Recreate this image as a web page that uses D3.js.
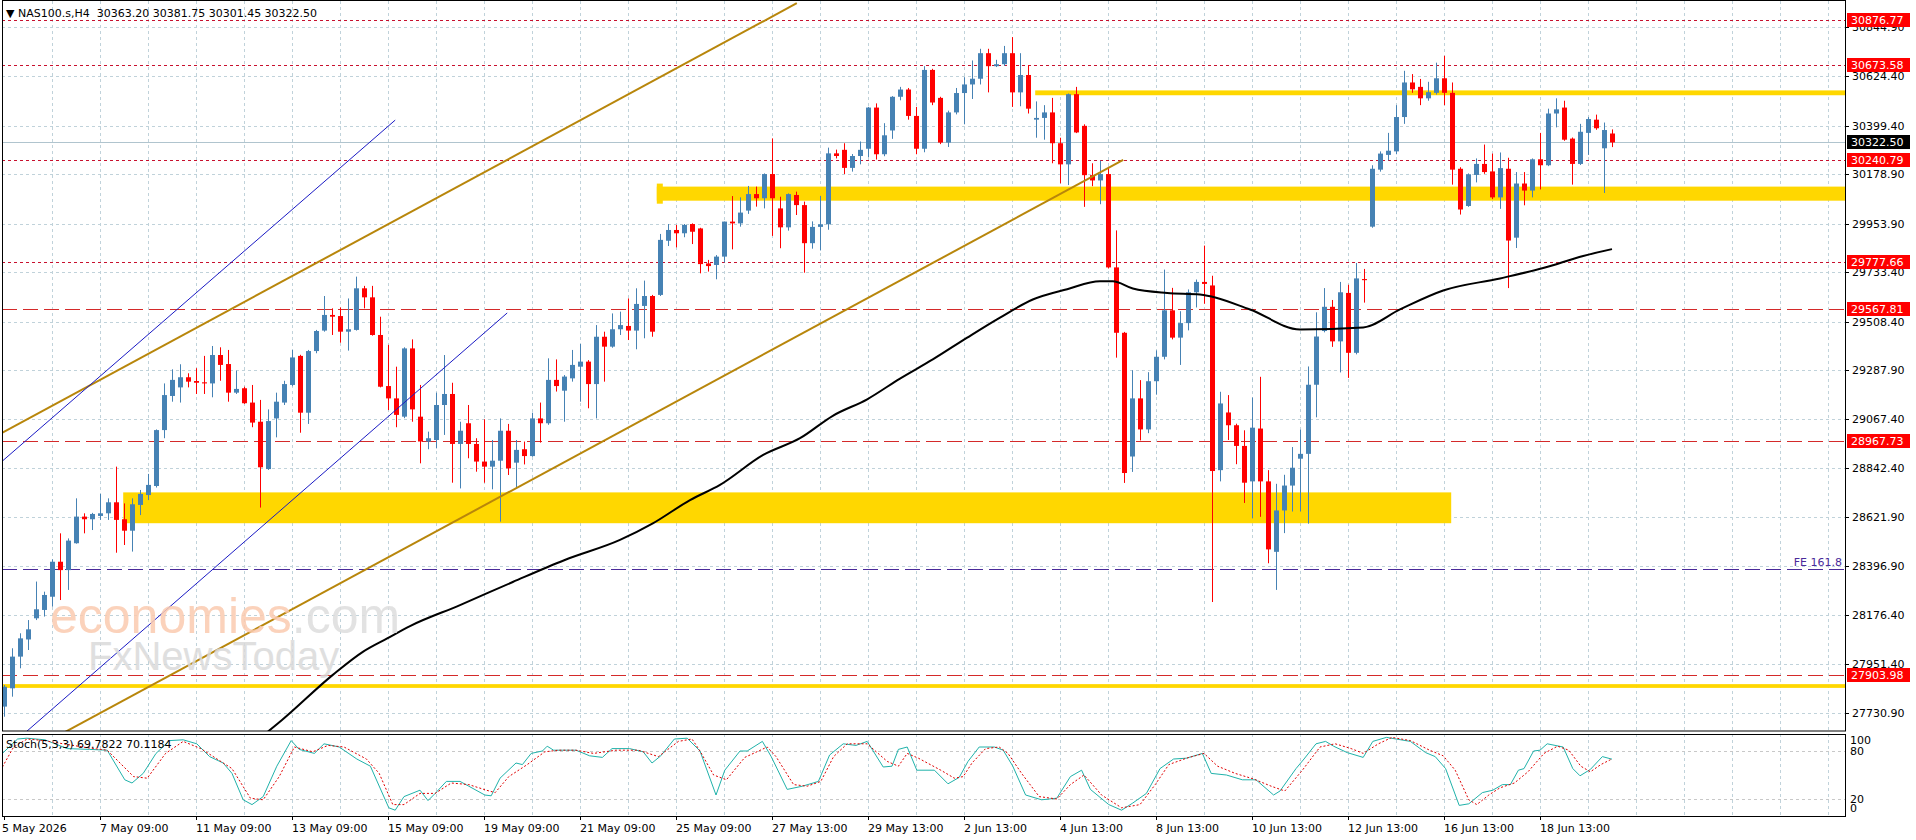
<!DOCTYPE html>
<html>
<head>
<meta charset="utf-8">
<script src="https://cdn.jsdelivr.net/npm/d3@7"></script>
<style>
  body { margin: 0; background: #fff; }
  svg { display: block; font-family: "DejaVu Sans", sans-serif; font-size: 11px; }
</style>
</head>
<body>
<svg id="chart" width="1916" height="840"></svg>
<script>
// H4 candles, [open, high, low, close]
const candles = [
  [27760,27858,27714,27850],[27843,28025,27805,27987],[27987,28093,27934,28070],[28065,28153,28017,28111],
  [28161,28328,28153,28202],[28199,28282,28169,28267],[28259,28429,28214,28418],[28418,28547,28244,28380],
  [28380,28524,28290,28514],[28502,28706,28500,28623],[28623,28638,28547,28611],[28611,28640,28562,28635],
  [28626,28726,28608,28638],[28638,28706,28608,28688],[28688,28850,28459,28608],[28611,28683,28494,28559],
  [28559,28706,28464,28679],[28676,28744,28630,28726],[28721,28817,28698,28767],[28762,29019,28755,29016],
  [29016,29228,28979,29175],[29171,29292,29145,29244],[29210,29315,29141,29256],[29256,29274,29210,29236],
  [29239,29297,29180,29231],[29233,29353,29180,29228],[29228,29398,29165,29357],[29357,29392,29240,29312],
  [29316,29380,29145,29186],[29186,29286,29180,29203],[29206,29213,29135,29138],[29141,29221,29029,29050],
  [29054,29153,28664,28847],[28839,29110,28835,29057],[29069,29186,28983,29145],[29141,29240,29130,29225],
  [29221,29380,29215,29346],[29353,29358,29004,29095],[29095,29380,29044,29375],[29375,29471,29365,29466],
  [29468,29625,29463,29539],[29539,29569,29448,29531],[29534,29573,29413,29463],[29463,29614,29377,29474],
  [29471,29713,29468,29660],[29660,29671,29569,29619],[29619,29671,29445,29448],[29448,29531,29210,29213],
  [29216,29403,29107,29160],[29160,29304,29029,29085],[29077,29392,29070,29387],[29387,29428,29054,29110],
  [29077,29221,28865,28964],[28964,29009,28929,28979],[28971,29186,28933,29130],[29130,29357,28994,29180],
  [29180,29231,28777,28953],[28953,29054,28751,29013],[29047,29130,28888,28953],[28953,28979,28827,28873],
  [28873,29065,28777,28850],[28850,28971,28747,28877],[28877,29069,28600,29013],[29013,29044,28812,28842],
  [28868,28971,28756,28926],[28929,28964,28860,28898],[28898,29095,28895,29069],[29069,29141,28959,29047],
  [29047,29342,29040,29244],[29244,29337,29191,29216],[29195,29266,29054,29259],[29251,29380,29236,29312],
  [29304,29407,29145,29327],[29327,29334,29115,29225],[29225,29493,29069,29440],[29440,29463,29236,29395],
  [29395,29546,29390,29474],[29474,29554,29448,29493],[29489,29614,29425,29468],[29468,29660,29383,29589],
  [29580,29695,29433,29625],[29625,29630,29440,29463],[29630,29907,29625,29880],[29876,29952,29852,29925],
  [29925,29948,29846,29910],[29910,29952,29892,29948],[29952,29955,29861,29917],[29932,29935,29728,29770],
  [29773,29789,29736,29761],[29766,29811,29701,29804],[29804,29963,29777,29963],[29963,30079,29837,29955],
  [29955,30073,29940,30004],[30013,30125,29998,30088],[30088,30122,30031,30069],[30069,30182,30023,30179],
  [30179,30341,29898,30069],[30023,30076,29842,29937],[29937,30091,29922,30088],[30084,30099,29993,30038],
  [30038,30054,29731,29865],[29865,29964,29840,29939],[29939,30080,29832,29951],[29951,30299,29926,30273],
  [30273,30290,30250,30261],[30289,30319,30179,30207],[30207,30270,30190,30261],[30261,30327,30223,30289],
  [30294,30484,30256,30481],[30481,30500,30245,30269],[30269,30410,30260,30355],[30377,30533,30339,30530],
  [30530,30575,30514,30563],[30563,30570,30426,30443],[30443,30484,30269,30294],[30294,30669,30278,30652],
  [30652,30657,30492,30504],[30525,30530,30315,30322],[30322,30467,30302,30459],[30459,30570,30450,30547],
  [30547,30619,30405,30586],[30586,30695,30520,30612],[30612,30748,30586,30728],[30728,30748,30550,30669],
  [30669,30698,30665,30678],[30678,30761,30670,30728],[30728,30801,30484,30550],[30550,30728,30487,30629],
  [30629,30674,30454,30476],[30426,30509,30344,30434],[30434,30492,30335,30459],[30459,30525,30228,30319],
  [30319,30344,30137,30223],[30223,30545,30129,30542],[30542,30575,30365,30368],[30398,30405,30030,30174],
  [30174,30228,30124,30150],[30150,30240,30042,30179],[30179,30212,29750,29755],[29755,29923,29345,29458],
  [29458,29462,28776,28821],[28896,29288,28826,29160],[29160,29243,28969,29019],[29019,29279,29002,29238],
  [29238,29378,29177,29349],[29349,29745,29337,29560],[29560,29662,29428,29436],[29436,29556,29312,29502],
  [29502,29655,29469,29642],[29642,29700,29573,29689],[29689,29854,29590,29680],[29673,29717,28235,28830],
  [28834,29190,28783,29137],[29096,29175,28971,29038],[29038,29045,28861,28944],[28944,29015,28685,28777],
  [28783,29164,28615,29027],[29023,29258,28622,28783],[28783,28834,28411,28474],[28463,28772,28290,28651],
  [28651,28813,28548,28764],[28764,28939,28646,28845],[28886,29018,28646,28908],[28908,29305,28591,29222],
  [29222,29551,29074,29441],[29466,29661,29460,29576],[29576,29607,29394,29419],[29419,29689,29278,29642],
  [29639,29676,29253,29367],[29367,29775,29360,29705],[29702,29748,29595,29697],[29940,30219,29935,30203],
  [30199,30282,30190,30272],[30266,30366,30241,30285],[30282,30492,30269,30438],[30438,30648,30407,30595],
  [30595,30633,30548,30564],[30575,30611,30492,30523],[30523,30598,30512,30551],[30548,30685,30540,30614],
  [30614,30716,30492,30548],[30548,30595,30131,30199],[30203,30210,29995,30018],[30034,30182,30030,30178],
  [30175,30250,30141,30225],[30225,30313,30180,30188],[30191,30272,30065,30073],[30073,30277,30021,30206],
  [30203,30253,29661,29877],[29890,30188,29843,30136],[30136,30188,30037,30104],[30104,30250,30073,30246],
  [30246,30366,30109,30219],[30219,30476,30215,30454],[30454,30523,30391,30473],[30481,30512,30330,30335],
  [30340,30345,30131,30225],[30225,30407,30220,30371],[30366,30438,30266,30429],[30426,30449,30380,30387],
  [30296,30413,30093,30379],[30363.2,30381.75,30301.45,30322.5]
];

// moving average, [bar, price]
const maPoints = [
  [30,27560],[34.75,27699],[41.1,27904],[44.9,28010],[47.9,28070],[50.75,28126],[57,28221],[63.6,28326],
  [70.1,28426],[77,28517],[81.1,28592],[85.75,28698],[89.5,28767],[94.9,28903],[99.5,28979],[103.6,29081],
  [107.9,29156],[112,29250],[116.1,29337],[120.4,29436],[124.5,29527],[128.6,29609],[132.9,29656],
  [137,29692],[138.6,29692],[141.1,29659],[145.4,29639],[149.5,29632],[155.75,29564],[162,29473],
  [169.9,29482],[174.5,29564],[179.9,29650],[187,29705],[192.4,29752],[197.4,29807],[201,29838]
];

// stochastic %K and %D, [bar, value]
const stochK = [
  [-0.2,77],[1.7,95],[2.85,96],[5.1,94],[7.9,83],[10.7,82],[12.9,81],[15.1,44],[16,40],[17.4,52],[19,77],
  [20.7,93],[22.4,94],[24.1,89],[25.7,73],[27.4,65],[28.5,52],[29.9,19],[31,13],[32.4,23],[34.1,61],
  [35.9,93],[36.9,82],[38.8,77],[40,89],[41.9,85],[44.1,70],[45.8,61],[48.1,9],[48.9,6],[50,23],[52,31],
  [53,18],[53.9,27],[55.3,42],[57,42],[58.1,36],[60.1,25],[60.9,24],[62,46],[64,65],[64.8,63],[65.9,77],
  [67.3,80],[67.9,86],[68.7,81],[71.5,81],[73.2,74],[74.8,72],[76,83],[78.2,83],[79.9,79],[81,65],
  [82.1,74],[83.8,95],[85.4,96],[87,80],[89,25],[90.1,56],[92,80],[92.9,80],[94.8,92],[95.9,73],[97.9,32],
  [99.8,36],[101.8,42],[103.2,75],[104.9,89],[106.5,87],[107.9,92],[109.9,60],[111,61],[111.8,82],
  [112.9,85],[114.1,56],[116.3,56],[118,39],[119.4,47],[120.5,67],[121.9,85],[123.8,85],[124.9,81],
  [126.1,61],[127.7,25],[129.7,19],[131.6,21],[133.3,48],[134.7,56],[135.8,32],[138.1,13],[139.7,6],
  [141.1,15],[142.8,27],[144.5,58],[146.2,70],[147.8,71],[149.8,77],[150.9,52],[152.8,50],[154.8,44],
  [156.5,44],[158.7,25],[159.5,30],[161.5,58],[162.5,70],[164,89],[165.2,92],[166.2,86],[167.9,78],
  [169.9,72],[171.1,92],[172.8,97],[175.8,92],[177.7,78],[178.9,73],[180.2,58],[181.9,12],[183.1,14],
  [184.8,28],[186.1,31],[187.3,38],[188.3,38],[189.3,56],[190,58],[191.2,80],[192,81],[192.9,89],
  [194.9,85],[196.1,58],[197,49],[198.3,57],[199.8,73],[201,69.78]
];
const stochD = [
  [-0.2,60],[1.2,85],[2.9,95],[5,93],[8,88],[10.5,84],[12.9,81],[16.2,48],[17.9,46],[20.2,77],[22.4,92],
  [24.6,83],[28.5,58],[30.8,21],[32.4,19],[34.4,48],[36.3,85],[38.6,79],[40.5,87],[42.5,85],[45.3,70],
  [46.9,52],[48.6,13],[50,13],[52,27],[53.9,27],[55.9,40],[58.1,38],[60.3,31],[61.4,28],[63.1,48],
  [65.4,63],[67.6,79],[69.3,81],[71.5,81],[73.7,77],[76.5,81],[79.3,81],[81.8,73],[84.3,92],[86,95],
  [87,80],[88.7,50],[90.3,44],[92.6,72],[95.4,85],[96.5,73],[98.7,38],[100.4,36],[102.1,42],[103.7,73],
  [105.4,89],[107.9,89],[110.4,67],[111.8,61],[112.9,77],[114.3,71],[117.1,56],[118.8,46],[119.9,48],
  [121,65],[122.7,83],[124.4,85],[125.5,77],[127.2,52],[129.4,23],[131.6,20],[133.3,38],[135,50],
  [137.2,25],[139.7,9],[142,13],[143.9,38],[145.6,63],[147.8,71],[150,77],[151.7,61],[153.9,52],
  [156.2,45],[158.4,36],[160.1,30],[162.3,56],[164.5,85],[166.4,89],[168.4,83],[169.9,77],[171.8,89],
  [173.5,97],[175.8,93],[178.2,81],[179.9,74],[181.4,56],[183.1,19],[184.1,13],[185.6,25],[187,34],
  [188.8,40],[190.5,54],[192.5,77],[194.2,86],[195.6,81],[197.1,61],[198.3,54],[199.6,63],[201,70.12]
];

const priceTicks = [30844.90,30624.40,30399.40,30178.90,29953.90,29733.40,29508.40,29287.90,
  29067.40,28842.40,28621.90,28396.90,28176.40,27951.40,27730.90];
const dateLabels = ["5 May 2026","7 May 09:00","11 May 09:00","13 May 09:00","15 May 09:00","19 May 09:00",
  "21 May 09:00","25 May 09:00","27 May 13:00","29 May 13:00","2 Jun 13:00","4 Jun 13:00","8 Jun 13:00",
  "10 Jun 13:00","12 Jun 13:00","16 Jun 13:00","18 Jun 13:00"];

const dottedLevels = [30876.77, 30673.58, 30240.79, 29777.66];
const dashedLevels = [29567.81, 28967.73, 27903.98];
const feLevel = 28386;
const lastPrice = 30322.50;

// zones: [fromBar, toBar (null = right edge), low, high]
const zones = [
  [14.9, 180.9, 28593, 28733],
  [81.6, null, 30058, 30122],
  [128.9, null, 30537, 30559],
  [-1, null, 27845, 27862]
];
// trend lines: [[bar, price], [bar, price]]
const goldLines = [
  [[-0.5, 28998], [99.1, 30955]],
  [[7.4, 27640], [139.9, 30243]]
];
const blueLines = [
  [[-0.5, 28866], [48.9, 30424]],
  [[2.6, 27640], [62.9, 29548]]
];

const svg = d3.select("#chart");
const left = 2, right = 1845, mainTop = 1, mainBottom = 731, stTop = 734, stBottom = 816;

const x = d3.scaleLinear().domain([0, 201]).range([4, 1612]);
const y = d3.scaleLinear().domain([27730.9, 30624.4]).range([713, 76]);
const ys = d3.scaleLinear().domain([0, 100]).range([815, 735]);

const defs = svg.append("defs");
defs.append("clipPath").attr("id", "clipMain").append("rect")
  .attr("x", left).attr("y", mainTop).attr("width", right - left).attr("height", mainBottom - mainTop);
defs.append("clipPath").attr("id", "clipSt").append("rect")
  .attr("x", left).attr("y", stTop).attr("width", right - left).attr("height", stBottom - stTop);

const gridColor = "#c0d2da";
const main = svg.append("g").attr("clip-path", "url(#clipMain)");
const st = svg.append("g").attr("clip-path", "url(#clipSt)");

// grid
const vgrid = d3.range(1, 39).map(k => 4 + 48 * k);
main.selectAll(".vg").data(vgrid).enter().append("line")
  .attr("x1", d => d + 0.5).attr("x2", d => d + 0.5).attr("y1", mainTop).attr("y2", mainBottom)
  .attr("stroke", gridColor).attr("stroke-dasharray", "3,3");
main.selectAll(".hg").data(priceTicks).enter().append("line")
  .attr("x1", left).attr("x2", right).attr("y1", d => Math.round(y(d)) + 0.5).attr("y2", d => Math.round(y(d)) + 0.5)
  .attr("stroke", gridColor).attr("stroke-dasharray", "3,3");
st.selectAll(".vg").data(vgrid).enter().append("line")
  .attr("x1", d => d + 0.5).attr("x2", d => d + 0.5).attr("y1", stTop).attr("y2", stBottom)
  .attr("stroke", gridColor).attr("stroke-dasharray", "3,3");
st.selectAll(".hg").data([80, 20]).enter().append("line")
  .attr("x1", left).attr("x2", right).attr("y1", d => Math.round(ys(d)) + 0.5).attr("y2", d => Math.round(ys(d)) + 0.5)
  .attr("stroke", "#c8c8c8").attr("stroke-dasharray", "3,3");

// yellow zones
main.selectAll(".zone").data(zones).enter().append("rect")
  .attr("x", d => x(d[0])).attr("width", d => (d[1] == null ? right : x(d[1])) - x(d[0]))
  .attr("y", d => y(d[3])).attr("height", d => y(d[2]) - y(d[3]))
  .attr("fill", "#ffd700");
main.append("rect").attr("x", x(zones[1][0])).attr("width", 6)
  .attr("y", y(zones[1][3]) - 3).attr("height", y(zones[1][2]) - y(zones[1][3]) + 6).attr("fill", "#ffd700");

// bid line
main.append("line").attr("x1", left).attr("x2", right)
  .attr("y1", Math.round(y(lastPrice)) + 0.5).attr("y2", Math.round(y(lastPrice)) + 0.5)
  .attr("stroke", "#b0c4ce");

// levels
main.selectAll(".dl").data(dottedLevels).enter().append("line")
  .attr("x1", left).attr("x2", right).attr("y1", d => Math.round(y(d)) + 0.5).attr("y2", d => Math.round(y(d)) + 0.5)
  .attr("stroke", "#c8102e").attr("stroke-dasharray", "3,3");
main.selectAll(".ll").data(dashedLevels).enter().append("line")
  .attr("x1", left).attr("x2", right).attr("y1", d => Math.round(y(d)) + 0.5).attr("y2", d => Math.round(y(d)) + 0.5)
  .attr("stroke", "#d42a2a").attr("stroke-dasharray", "15,6");
main.append("line").attr("x1", left).attr("x2", right)
  .attr("y1", Math.round(y(feLevel)) + 0.5).attr("y2", Math.round(y(feLevel)) + 0.5)
  .attr("stroke", "#4a2a9a").attr("stroke-dasharray", "15,6");
main.append("text").attr("x", right - 3).attr("y", y(feLevel) - 3).attr("text-anchor", "end")
  .attr("fill", "#4a2a9a").text("FE 161.8");

// candles
const bull = "#4682b4", bear = "#ff0000";
const cg = main.selectAll(".c").data(candles).enter().append("g");
cg.append("line")
  .attr("x1", (d, i) => Math.round(x(i)) + 0.5).attr("x2", (d, i) => Math.round(x(i)) + 0.5)
  .attr("y1", d => y(d[1])).attr("y2", d => y(d[2]))
  .attr("stroke", d => d[3] >= d[0] ? bull : bear);
cg.append("rect")
  .attr("x", (d, i) => Math.round(x(i)) - 2).attr("width", 5)
  .attr("y", d => y(Math.max(d[0], d[3])))
  .attr("height", d => Math.max(1, Math.abs(y(d[0]) - y(d[3]))))
  .attr("fill", d => d[3] >= d[0] ? bull : bear);

// moving average
main.append("path").datum(maPoints)
  .attr("d", d3.line().x(d => x(d[0])).y(d => y(d[1])).curve(d3.curveMonotoneX))
  .attr("fill", "none").attr("stroke", "#000").attr("stroke-width", 2);

// trend lines
main.selectAll(".gl").data(goldLines).enter().append("line")
  .attr("x1", d => x(d[0][0])).attr("y1", d => y(d[0][1])).attr("x2", d => x(d[1][0])).attr("y2", d => y(d[1][1]))
  .attr("stroke", "#b8860b").attr("stroke-width", 2);
main.selectAll(".bl").data(blueLines).enter().append("line")
  .attr("x1", d => x(d[0][0])).attr("y1", d => y(d[0][1])).attr("x2", d => x(d[1][0])).attr("y2", d => y(d[1][1]))
  .attr("stroke", "#1a1ac4").attr("stroke-width", 1);

// watermark
const wm = main.append("g").attr("font-family", "'Liberation Sans', Arial, sans-serif").attr("opacity", 0.85);
const t1 = wm.append("text").attr("x", 50).attr("y", 633).attr("font-size", 50);
t1.append("tspan").attr("fill", "#fbcbb0").text("economies");
t1.append("tspan").attr("fill", "#dedede").text(".com");
wm.append("text").attr("x", 88).attr("y", 670).attr("font-size", 40).attr("fill", "#dadada").text("FxNewsToday");

// stochastic
const sline = d3.line().x(d => x(d[0])).y(d => ys(d[1]));
st.append("path").datum(stochK).attr("d", sline).attr("fill", "none").attr("stroke", "#20b2aa").attr("stroke-width", 1);
st.append("path").datum(stochD).attr("d", sline).attr("fill", "none").attr("stroke", "#e00000")
  .attr("stroke-width", 1).attr("stroke-dasharray", "2,2");
svg.append("text").attr("x", 6).attr("y", 748).attr("fill", "#000").text("Stoch(5,3,3) 69.7822 70.1184");

// frames
svg.append("rect").attr("x", left + 0.5).attr("y", mainTop - 0.5).attr("width", right - left).attr("height", mainBottom - mainTop + 0.5)
  .attr("fill", "none").attr("stroke", "#000");
svg.append("rect").attr("x", left + 0.5).attr("y", stTop + 0.5).attr("width", right - left).attr("height", stBottom - stTop)
  .attr("fill", "none").attr("stroke", "#000");

// price axis
const ax = svg.append("g");
ax.selectAll(".pt").data(priceTicks).enter().append("line")
  .attr("x1", right).attr("x2", right + 4).attr("y1", d => Math.round(y(d)) + 0.5).attr("y2", d => Math.round(y(d)) + 0.5)
  .attr("stroke", "#000");
ax.selectAll(".pl").data(priceTicks).enter().append("text")
  .attr("x", right + 7).attr("y", d => y(d) + 4).text(d => d.toFixed(2));
const tags = dottedLevels.concat(dashedLevels).map(v => ({ v: v, c: "#ff0000" }))
  .concat([{ v: lastPrice, c: "#000" }]);
const tg = ax.selectAll(".tag").data(tags).enter().append("g");
tg.append("rect").attr("x", right + 2).attr("width", 63).attr("y", d => Math.round(y(d.v)) - 7).attr("height", 14)
  .attr("fill", d => d.c);
tg.append("text").attr("x", right + 6).attr("y", d => Math.round(y(d.v)) + 4).attr("fill", "#fff")
  .text(d => d.v.toFixed(2));

// stoch axis
ax.selectAll(".sl").data([100, 80, 20, 0]).enter().append("text")
  .attr("x", right + 5).attr("y", d => ys(d) + (d === 100 ? 9 : d === 0 ? -3 : 4)).text(d => d);

// date axis
const dg = svg.append("g");
dg.selectAll(".dt").data(dateLabels).enter().append("line")
  .attr("x1", (d, i) => Math.round(x(12 * i)) + 0.5).attr("x2", (d, i) => Math.round(x(12 * i)) + 0.5)
  .attr("y1", stBottom).attr("y2", stBottom + 4).attr("stroke", "#000");
dg.selectAll(".dl").data(dateLabels).enter().append("text")
  .attr("x", (d, i) => i === 0 ? 2 : Math.round(x(12 * i))).attr("y", 832).text(d => d);

// header
svg.append("text").attr("x", 6).attr("y", 17).attr("fill", "#000")
  .text("\u25BC NAS100.s,H4  30363.20 30381.75 30301.45 30322.50").attr("xml:space", "preserve");
</script>
</body>
</html>
